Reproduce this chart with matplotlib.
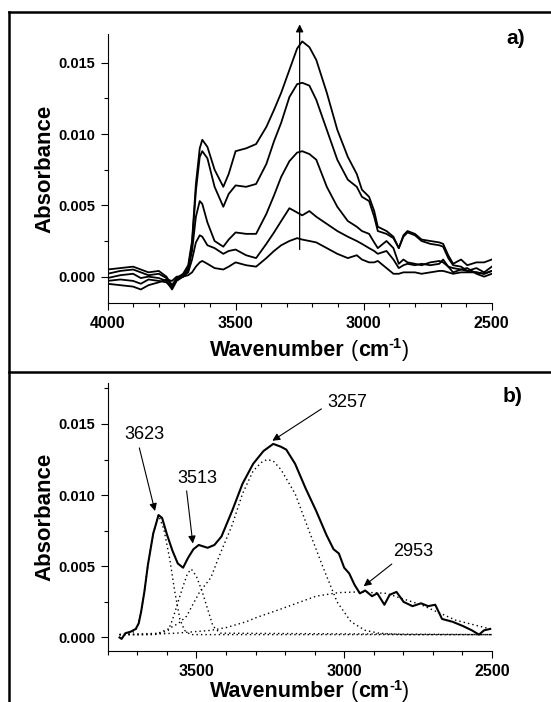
import matplotlib.pyplot as plt
from matplotlib.lines import Line2D
from matplotlib.ticker import MultipleLocator, FormatStrFormatter

plt.rcParams["font.family"] = ["Liberation Sans", "DejaVu Sans"]

# ---- panel a) : five spectra (absorbance x 1e-3) ----
wn_a = [4000, 3950, 3900, 3870, 3840, 3800, 3770, 3748, 3730, 3705,
        3685, 3670, 3655, 3640, 3630, 3610, 3582, 3548, 3527, 3500,
        3459, 3420, 3380, 3350, 3322, 3290, 3260, 3240, 3212, 3185,
        3144, 3103, 3062, 3027, 3007, 2979, 2959, 2945, 2911, 2884,
        2863, 2845, 2829, 2800, 2774, 2740, 2705, 2690, 2670, 2651,
        2620, 2596, 2560, 2530, 2500]
spec_1 = [0.5, 0.6, 0.7, 0.5, 0.3, 0.4, 0.0, -0.6, -0.1, 0.2,
          0.8, 2.5, 6.5, 9.0, 9.6, 9.1, 7.5, 6.3, 7.2, 8.8,
          9.0, 9.3, 10.5, 11.7, 12.9, 14.5, 16.0, 16.5, 16.1, 15.2,
          12.9, 10.3, 8.4, 7.2, 6.1, 5.6, 4.6, 3.5, 3.2, 2.8,
          2.0, 2.9, 3.2, 3.0, 2.6, 2.5, 2.4, 2.3, 1.5, 0.9,
          1.2, 0.8, 1.0, 1.0, 1.2]
spec_2 = [0.2, 0.4, 0.5, 0.3, 0.1, 0.2, -0.1, -0.7, -0.2, 0.1,
          0.6, 2.3, 6.0, 8.4, 8.8, 8.3, 6.3, 4.9, 5.8, 6.4,
          6.3, 6.5, 7.9, 9.5, 10.8, 12.6, 13.5, 13.6, 13.4, 12.4,
          10.3, 8.2, 6.8, 6.3, 5.6, 5.3, 4.2, 3.2, 3.0, 2.7,
          2.0, 2.8, 3.1, 2.9, 2.5, 2.3, 2.2, 2.1, 1.3, 0.8,
          0.7, 0.4, 0.6, 0.3, 0.7]
spec_3 = [-0.1, 0.1, 0.2, -0.1, 0.0, -0.1, -0.3, -0.9, -0.3, 0.0,
          0.5, 1.8, 4.2, 5.3, 5.1, 3.8, 2.5, 2.1, 2.6, 3.1,
          3.0, 3.0, 4.4, 5.7, 7.0, 8.1, 8.7, 8.8, 8.6, 8.2,
          6.3, 4.9, 3.9, 3.5, 3.2, 3.0, 2.4, 2.0, 2.5, 2.0,
          0.9, 1.2, 1.0, 0.9, 0.8, 1.0, 1.1, 1.0, 0.7, 0.6,
          0.5, 0.4, 0.3, 0.2, 0.4]
spec_4 = [-0.3, -0.2, -0.3, -0.5, -0.2, -0.3, -0.4, -0.8, -0.2, 0.0,
          0.3, 1.2, 2.4, 2.9, 2.8, 2.2, 2.0, 1.6, 1.8, 1.9,
          1.5, 1.3, 2.3, 3.1, 3.9, 4.8, 4.5, 4.3, 4.6, 4.2,
          3.7, 3.2, 2.8, 2.5, 2.3, 2.0, 1.8, 1.6, 1.8, 1.2,
          0.6, 0.8, 0.9, 0.8, 0.9, 0.8, 0.9, 1.2, 0.7, 0.3,
          0.5, 0.6, 0.2, 0.0, 0.2]
spec_5 = [-0.5, -0.6, -0.7, -0.9, -0.6, -0.4, -0.2, -0.3, 0.0, 0.0,
          0.1, 0.3, 0.7, 1.0, 1.1, 0.9, 0.6, 0.5, 0.7, 1.0,
          0.8, 0.7, 1.3, 1.8, 2.2, 2.5, 2.7, 2.6, 2.5, 2.4,
          2.0, 1.6, 1.3, 1.5, 1.2, 1.0, 1.0, 1.1, 0.6, 0.2,
          0.2, 0.3, 0.3, 0.3, 0.2, 0.3, 0.4, 0.4, 0.3, 0.2,
          0.3, 0.3, 0.3, 0.2, 0.4]
spectra_a = [spec_1, spec_2, spec_3, spec_4, spec_5]

# ---- panel b) : measured spectrum and fitted bands (absorbance x 1e-3) ----
wn_b = [3760, 3753, 3740, 3723, 3705, 3695, 3687, 3676, 3664, 3646,
        3628, 3616, 3599, 3581, 3563, 3545, 3528, 3510, 3492, 3462,
        3439, 3415, 3379, 3344, 3308, 3273, 3240, 3214, 3196, 3166,
        3131, 3095, 3060, 3036, 3018, 3000, 2983, 2965, 2947, 2929,
        2906, 2888, 2864, 2846, 2823, 2799, 2769, 2740, 2716, 2692,
        2669, 2633, 2598, 2568, 2544, 2527, 2506]
abs_b = [0.0, -0.1, 0.3, 0.4, 0.6, 1.0, 1.8, 3.2, 5.1, 7.3,
         8.6, 8.4, 7.2, 6.1, 5.2, 4.9, 5.6, 6.2, 6.5, 6.3,
         6.5, 7.1, 8.9, 10.8, 12.2, 13.1, 13.6, 13.4, 13.2, 12.2,
         10.5, 8.9, 7.2, 6.2, 5.9, 4.9, 4.5, 3.7, 3.1, 3.3,
         2.9, 3.1, 2.3, 3.0, 3.2, 2.5, 2.2, 2.4, 2.2, 2.3,
         1.3, 1.1, 0.8, 0.5, 0.2, 0.5, 0.6]

band_3623_wn = [3760, 3730, 3711, 3700, 3687, 3676, 3664, 3646, 3628, 3610,
                3590, 3573, 3556, 3540, 3520, 2500]
band_3623 = [0.2, 0.3, 0.4, 0.7, 1.8, 3.2, 5.1, 7.3, 8.6, 7.6,
             5.5, 3.2, 1.3, 0.5, 0.2, 0.2]
band_3513_wn = [3760, 3620, 3595, 3580, 3562, 3545, 3530, 3517, 3500, 3480,
                3462, 3444, 3420, 2500]
band_3513 = [0.2, 0.3, 0.5, 1.3, 2.5, 3.6, 4.5, 4.8, 4.3, 3.2,
             2.0, 0.8, 0.3, 0.2]
band_3257_wn = [3760, 3640, 3595, 3560, 3533, 3489, 3451, 3427, 3415, 3379,
                3344, 3308, 3280, 3261, 3240, 3214, 3166, 3119, 3071, 3024,
                2977, 2929, 2882, 2800, 2500]
band_3257 = [0.2, 0.2, 0.6, 1.0, 1.5, 3.2, 4.2, 5.5, 6.1, 7.9,
             10.1, 11.7, 12.3, 12.5, 12.4, 11.8, 10.1, 7.5, 4.9, 2.5,
             1.1, 0.5, 0.3, 0.2, 0.2]
band_2953_wn = [3760, 3687, 3569, 3451, 3398, 3332, 3297, 3214, 3095, 3020,
                2953, 2858, 2740, 2621, 2506]
band_2953 = [0.2, 0.2, 0.3, 0.5, 0.7, 1.1, 1.4, 2.0, 2.9, 3.15,
             3.2, 3.1, 2.3, 1.2, 0.6]
bands_wn = [band_3623_wn, band_3513_wn, band_3257_wn, band_2953_wn]
bands = [band_3623, band_3513, band_3257, band_2953]

peak_labels = ["3623", "3513", "3257", "2953"]
label_xy = [(3677, 14.26), (3496, 11.2), (2989, 16.53), (2767, 6.05)]
arrow_from = [(3693, 13.32), (3533, 10.3), (3077, 16.06), (2839, 5.16)]
arrow_to = [(3640, 8.88), (3512, 6.6), (3243, 13.82), (2934, 3.6)]

W, H = 551, 702
fig = plt.figure(figsize=(W / 100, H / 100), dpi=100)


def px_axes(left, top, right, bottom):
    return fig.add_axes([left / W, 1 - bottom / H, (right - left) / W, (bottom - top) / H])


def wavenumber_label(ax, y):
    # "Wavenumber (cm-1)" built from pieces so the superscript sits right
    first = ax.text(0.2667, y, "Wavenumber", transform=ax.transAxes,
                    fontsize=15.5, fontweight="bold", ha="left", va="baseline")
    pieces = [(" (", "normal", 15.5), ("cm", "bold", 15.5),
              ("-1", "bold", 10.5), (")", "normal", 15.5)]
    prev = first
    for txt, weight, size in pieces:
        if size < 15:
            prev = ax.annotate(txt, xy=(1, 1.1), xycoords=(prev, first),
                               fontsize=size, fontweight=weight,
                               ha="left", va="top")
        else:
            prev = ax.annotate(txt, xy=(1, 0), xycoords=(prev, first),
                               fontsize=size, fontweight=weight,
                               ha="left", va="bottom")


def style_axes(ax, xlabel_y):
    for side in ("top", "right"):
        ax.spines[side].set_visible(False)
    for side in ("left", "bottom"):
        ax.spines[side].set_linewidth(0.8)
    ax.xaxis.set_major_locator(MultipleLocator(500))
    ax.xaxis.set_minor_locator(MultipleLocator(100))
    ax.yaxis.set_major_locator(MultipleLocator(0.005))
    ax.yaxis.set_minor_locator(MultipleLocator(0.0025))
    ax.yaxis.set_major_formatter(FormatStrFormatter("%.3f"))
    ax.tick_params(which="both", direction="out", width=0.8)
    ax.tick_params(which="major", length=5)
    ax.tick_params(which="minor", length=2.8)
    ax.tick_params(axis="x", which="major", pad=4.3)
    ax.tick_params(axis="y", which="major", pad=3.8)
    for lab in ax.get_xticklabels():
        lab.set_fontsize(11.5)
        lab.set_fontweight("bold")
    for lab in ax.get_yticklabels():
        lab.set_fontsize(10.5)
        lab.set_fontweight("bold")
    wavenumber_label(ax, xlabel_y)
    ax.set_ylabel("Absorbance", fontsize=16, fontweight="bold",
                  va="baseline", rotation_mode="anchor")
    ax.yaxis.set_label_coords(-0.1496, 0.5)


# panel a)
ax1 = px_axes(107.5, 34.3, 491.8, 303)
for spec in spectra_a:
    ax1.plot(wn_a, [v * 1e-3 for v in spec], color="black", lw=1.3)
ax1.set_xlim(4000, 2500)
ax1.set_ylim(-0.00185, 0.017)
style_axes(ax1, -0.1954)
ax1.annotate("", xy=(3250, 0.0177), xytext=(3250, 0.0019),
             arrowprops=dict(arrowstyle="-|>", color="black", lw=0.9,
                             mutation_scale=11, shrinkA=0, shrinkB=0),
             annotation_clip=False)

# panel b)
ax2 = px_axes(107.7, 382.7, 492, 650.7)
for bx, by in zip(bands_wn, bands):
    ax2.plot(bx, [v * 1e-3 for v in by], color="black", lw=1.0, ls=(0, (1, 2.2)))
ax2.plot(wn_b, [v * 1e-3 for v in abs_b], color="black", lw=1.5)
ax2.set_xlim(3800, 2500)
ax2.set_ylim(-0.00093, 0.0179)
style_axes(ax2, -0.1728)
for lab, txy, a0, a1 in zip(peak_labels, label_xy, arrow_from, arrow_to):
    ax2.text(txy[0], txy[1] * 1e-3, lab, fontsize=13, ha="center", va="center")
    ax2.annotate("", xy=(a1[0], a1[1] * 1e-3), xytext=(a0[0], a0[1] * 1e-3),
                 arrowprops=dict(arrowstyle="-|>", color="black", lw=0.8,
                                 mutation_scale=11, shrinkA=0, shrinkB=0))

fig.text(516 / W, 1 - 38 / H, "a)", fontsize=15, fontweight="bold",
         ha="center", va="center")
fig.text(513 / W, 1 - 397 / H, "b)", fontsize=15, fontweight="bold",
         ha="center", va="center")

# panel frames
for (x0, y0), (x1, y1) in [((9, 11.7), (W + 5, 11.7)),
                           ((9, 372), (W + 5, 372)),
                           ((9, 11.7), (9, H + 5))]:
    fig.add_artist(Line2D([x0 / W, x1 / W], [1 - y0 / H, 1 - y1 / H],
                          transform=fig.transFigure, color="black", lw=1.8,
                          solid_capstyle="projecting"))

fig.savefig("out.png", dpi=100)
